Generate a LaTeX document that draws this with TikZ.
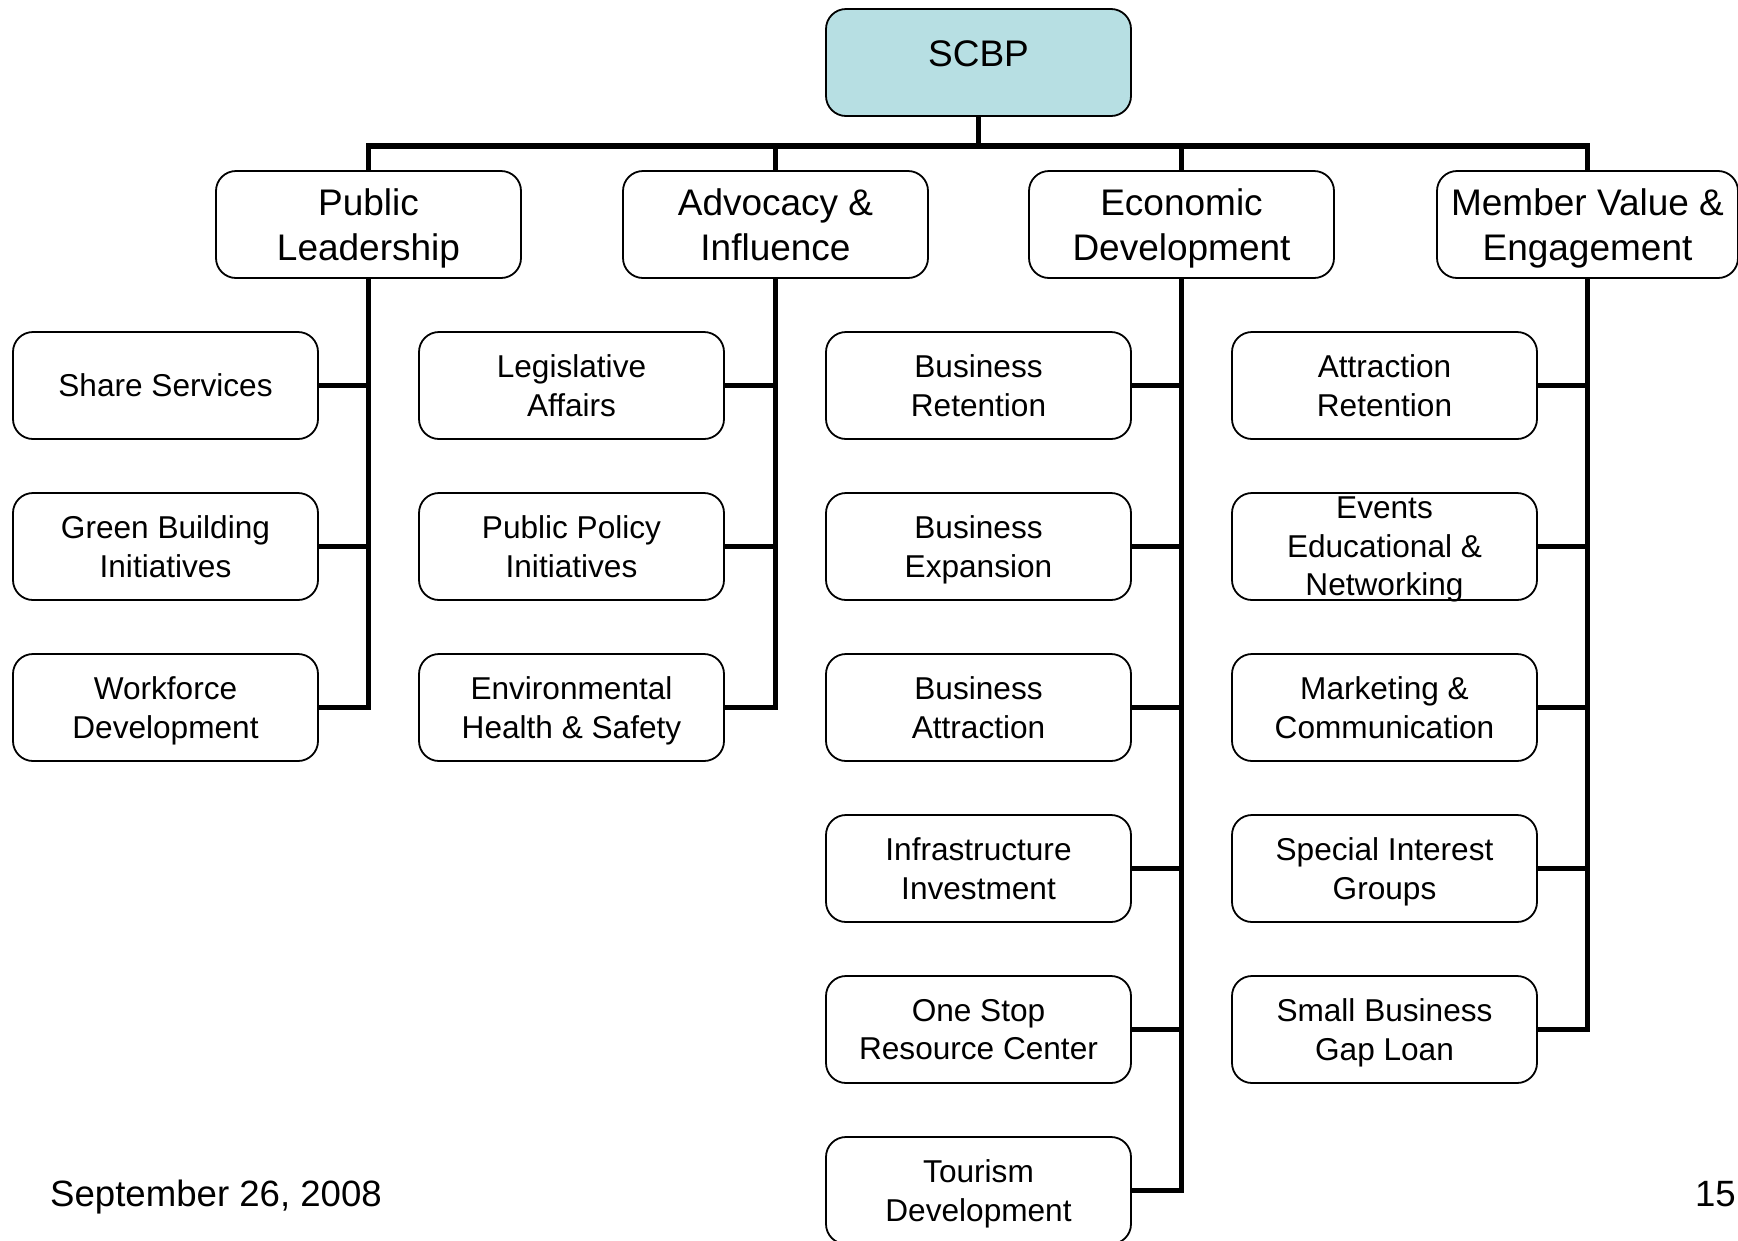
\documentclass[tikz,border=0pt]{standalone}
\usepackage{fontspec}
\setmainfont{Liberation Sans}
\definecolor{rootfill}{RGB}{183,223,227}
\tikzset{
  box/.style={draw=black, line width=1.8pt, rounded corners=20pt, minimum width=305pt,
    minimum height=107pt, inner sep=0pt, align=center, text depth=0pt},
  topbox/.style={box, font=\fontsize{37}{44.5}\selectfont},
  subbox/.style={box, font=\fontsize{31.6}{38.4}\selectfont},
  conn/.style={line width=5.5pt},
  foot/.style={font=\fontsize{36.6}{44}\selectfont, inner sep=0pt}
}
\begin{document}
\begin{tikzpicture}[x=1pt,y=-1pt]
\useasboundingbox (0,0) rectangle (1738,1240);
% root
\node[topbox, fill=rootfill, text height=27pt, text depth=19.4pt] (root) at (978.5,62.5) {SCBP};
% level 1
\node[topbox] (pl) at (368.5,224.5) {Public\\Leadership};
\node[topbox] (ai) at (775.5,224.5) {Advocacy \&\\Influence};
\node[topbox] (ed) at (1181.5,224.5) {Economic\\Development};
\node[topbox, minimum width=301pt] (mv) at (1587.5,224.5) {Member Value \&\\Engagement};
% column 1
\node[subbox] (ss) at (165.5,385.5) {Share Services};
\node[subbox] (gb) at (165.5,546.5) {Green Building\\Initiatives};
\node[subbox] (wd) at (165.5,707.5) {Workforce\\Development};
% column 2
\node[subbox] (la) at (571.5,385.5) {Legislative\\Affairs};
\node[subbox] (pp) at (571.5,546.5) {Public Policy\\Initiatives};
\node[subbox] (eh) at (571.5,707.5) {Environmental\\Health \& Safety};
% column 3
\node[subbox] (br) at (978.5,385.5) {Business\\Retention};
\node[subbox] (be) at (978.5,546.5) {Business\\Expansion};
\node[subbox] (ba) at (978.5,707.5) {Business\\Attraction};
\node[subbox] (ii) at (978.5,868.5) {Infrastructure\\Investment};
\node[subbox] (os) at (978.5,1029.5) {One Stop\\Resource Center};
\node[subbox] (td) at (978.5,1190.5) {Tourism\\Development};
% column 4
\node[subbox] (ar) at (1384.5,385.5) {Attraction\\Retention};
\node[subbox] (ee) at (1384.5,546.5) {Events\\Educational \&\\Networking};
\node[subbox] (mc) at (1384.5,707.5) {Marketing \&\\Communication};
\node[subbox] (sig) at (1384.5,868.5) {Special Interest\\Groups};
\node[subbox] (sb) at (1384.5,1029.5) {Small Business\\Gap Loan};
% footer
\node[foot, anchor=base west] (date) at (50,1206) {September 26, 2008};
\node[foot, anchor=base east] (page) at (1736,1206) {15};
% connectors
\coordinate (bus) at (0,146);
\foreach \t in {pl,ai,ed,mv}
  \draw[conn] (root.south) -- (root.south |- bus) -| (\t.north);
\foreach \c in {ss,gb,wd} \draw[conn] (pl.south) |- (\c.east);
\foreach \c in {la,pp,eh} \draw[conn] (ai.south) |- (\c.east);
\foreach \c in {br,be,ba,ii,os,td} \draw[conn] (ed.south) |- (\c.east);
\foreach \c in {ar,ee,mc,sig,sb} \draw[conn] (mv.south) |- (\c.east);
\end{tikzpicture}
\end{document}
